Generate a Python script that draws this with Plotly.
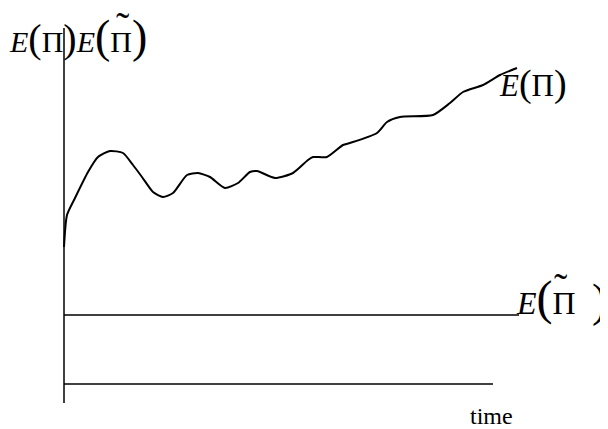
import plotly.graph_objects as go

# Data (time units, value units)
time = [0, 0.3, 1.1, 2.4, 3.4, 4.6, 5.9, 6.9, 7.8, 8.9, 9.9, 10.9, 12.3, 13.4, 14.6,
        16.1, 17.4, 18.6, 19.3, 21.1, 22.9, 24.4, 24.9, 26.3, 27.9, 28.6, 31.3, 32.3,
        33.6, 36.9, 38.6, 39.9, 41.9, 43.6, 45.3]
e_pi = [15.6, 18.8, 20.5, 23.1, 24.6, 25.2, 25.0, 23.8, 22.6, 21.1, 20.6, 21.0, 22.8,
        23.0, 22.6, 21.5, 22.0, 23.1, 23.2, 22.5, 23.0, 24.3, 24.6, 24.6, 25.8, 26.0,
        27.0, 28.1, 28.6, 28.8, 30.0, 31.1, 31.8, 32.8, 33.5]
e_pi_tilde_time = [0, 45.5]
e_pi_tilde = [8.8, 8.8]
base_time = [0, 42.9]
base_val = [1.9, 1.9]
yaxis_time = [0, 0]
yaxis_val = [0, 37.5]

# page body has an 8px margin: figure drawn at (8, 8)
OFF = 8
W, H = 608 - OFF, 429 - OFF
X0, X1 = (OFF - 64) / 10, (608 - 64) / 10
Y0, Y1 = (403 - 429) / 10, (403 - OFF) / 10

def px(x):
    return (x - OFF) / W

def py(y):
    return 1 - (y - OFF) / H

fig = go.Figure()
fig.add_trace(go.Scatter(x=time, y=e_pi, mode="lines",
                         line=dict(color="black", width=2, shape="spline", smoothing=0.6)))
fig.add_trace(go.Scatter(x=e_pi_tilde_time, y=e_pi_tilde, mode="lines", line=dict(color="black", width=1.5)))
fig.add_trace(go.Scatter(x=base_time, y=base_val, mode="lines", line=dict(color="black", width=1.5)))
fig.add_trace(go.Scatter(x=yaxis_time, y=yaxis_val, mode="lines", line=dict(color="black", width=1.5)))

serif = "Liberation Serif, Times New Roman, serif"

def label(text, x, y, size, anchor="left"):
    fig.add_annotation(text=text, x=px(x), y=py(y), xref="paper", yref="paper",
                       xanchor=anchor, yanchor="middle", showarrow=False, borderpad=0,
                       font=dict(family=serif, size=size, color="black"))

P = lambda s: f"<span style='font-size:{s}px'>"
label(f"<i>E</i>{P(40)}(</span>Π{P(40)})</span><i>E</i>{P(46)}(</span>Π{P(46)})</span>", 8, 36, 30)
label("\u02dc", 123, 26, 40, "center")
label(f"<i>E</i>{P(38)}(</span>Π{P(38)})</span>", 498, 83, 31)
label(f"<i>E</i>{P(48)}(</span>Π", 515, 298, 32)
label("\u02dc", 561, 287, 40, "center")
label(")", 599, 300, 46, "center")
label("time", 469, 416, 24)

fig.update_layout(
    width=W, height=H, margin=dict(l=0, r=0, t=0, b=0),
    paper_bgcolor="white", plot_bgcolor="white", showlegend=False,
    xaxis=dict(range=[X0, X1], visible=False, fixedrange=True),
    yaxis=dict(range=[Y0, Y1], visible=False, fixedrange=True),
)
fig.write_html("out.html")
